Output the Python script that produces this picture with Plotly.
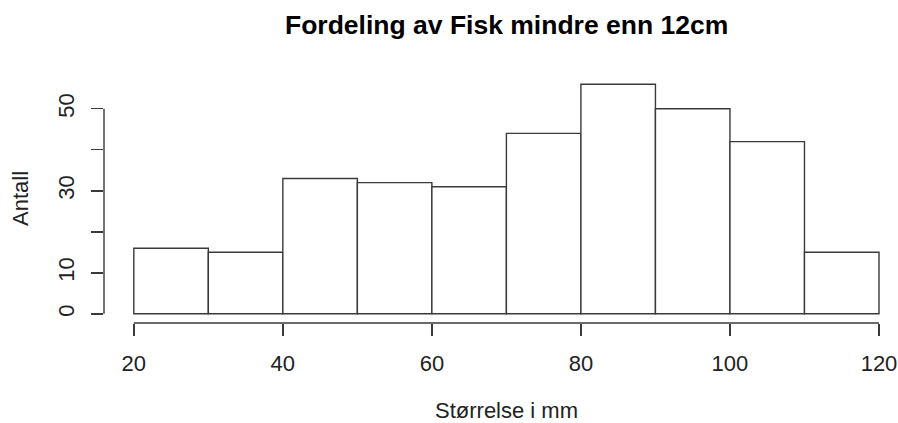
import plotly.graph_objects as go

# Data
bin_edges = [20, 30, 40, 50, 60, 70, 80, 90, 100, 110, 120]
counts = [16, 15, 33, 32, 31, 44, 56, 50, 42, 15]
x_ticks = [20, 40, 60, 80, 100, 120]
y_ticks = [0, 10, 20, 30, 40, 50]
y_tick_labels = ["0", "10", "", "30", "", "50"]
title_text = "Fordeling av Fisk mindre enn 12cm"
x_title = "Størrelse i mm"
y_title = "Antall"

centers = [(a + b) / 2 for a, b in zip(bin_edges[:-1], bin_edges[1:])]
widths = [b - a for a, b in zip(bin_edges[:-1], bin_edges[1:])]

FONT = "Liberation Sans, Arial, sans-serif"
LINE = "#3a3a3a"
TXT = "#222222"

fig = go.Figure()
fig.add_trace(go.Bar(
    x=centers, y=counts, width=widths,
    marker=dict(color="white", line=dict(color=LINE, width=1.4)),
    hoverinfo="skip", showlegend=False,
))

fig.update_layout(
    width=898, height=423,
    margin=dict(l=104, r=0, t=75, b=100, autoexpand=False),
    paper_bgcolor="white", plot_bgcolor="white",
    bargap=0,
    font=dict(family=FONT, size=22, color=TXT),
    xaxis=dict(
        range=[16, 122.55], showgrid=False, zeroline=False, showline=False,
        automargin=False,
        tickmode="array", tickvals=x_ticks, ticktext=[str(v) for v in x_ticks],
        ticks="outside", ticklen=12, tickwidth=1.4, tickcolor=LINE,
        ticklabelstandoff=9,
        tickfont=dict(size=22, color=TXT, family=FONT),
        fixedrange=True,
    ),
    yaxis=dict(
        range=[-2.24, 58.24], showgrid=False, zeroline=False, showline=False,
        automargin=False,
        tickmode="array", tickvals=y_ticks, ticktext=y_tick_labels,
        ticks="outside", ticklen=12, tickwidth=1.4, tickcolor=LINE,
        tickangle=-90, ticklabelstandoff=8,
        tickfont=dict(size=22, color=TXT, family=FONT),
        fixedrange=True,
    ),
    shapes=[
        dict(type="line", xref="x", yref="paper", x0=x_ticks[0], x1=x_ticks[-1], y0=0, y1=0,
             line=dict(color=LINE, width=1.4)),
        dict(type="line", xref="paper", yref="y", x0=0, x1=0, y0=y_ticks[0], y1=y_ticks[-1],
             line=dict(color=LINE, width=1.4)),
    ],
    annotations=[
        dict(text="<b>" + title_text + "</b>", xref="x", yref="paper", x=70, y=1,
             yshift=50, xanchor="center", yanchor="middle", showarrow=False,
             font=dict(size=26.5, color="black", family=FONT)),
        dict(text=x_title, xref="x", yref="paper", x=70, y=0,
             yshift=-87, xanchor="center", yanchor="middle", showarrow=False,
             font=dict(size=22, color=TXT, family=FONT)),
        dict(text=y_title, xref="paper", yref="paper", x=0, y=0.5,
             xshift=-84, xanchor="center", yanchor="middle", showarrow=False,
             textangle=-90,
             font=dict(size=22, color=TXT, family=FONT)),
    ],
)

# remove the default 8px page margin so the 898x423 figure fills the window exactly
fig.write_html(
    "out.html",
    config={"displayModeBar": False, "staticPlot": True},
    post_script="document.body.style.margin='0';document.body.style.overflow='hidden';",
)
